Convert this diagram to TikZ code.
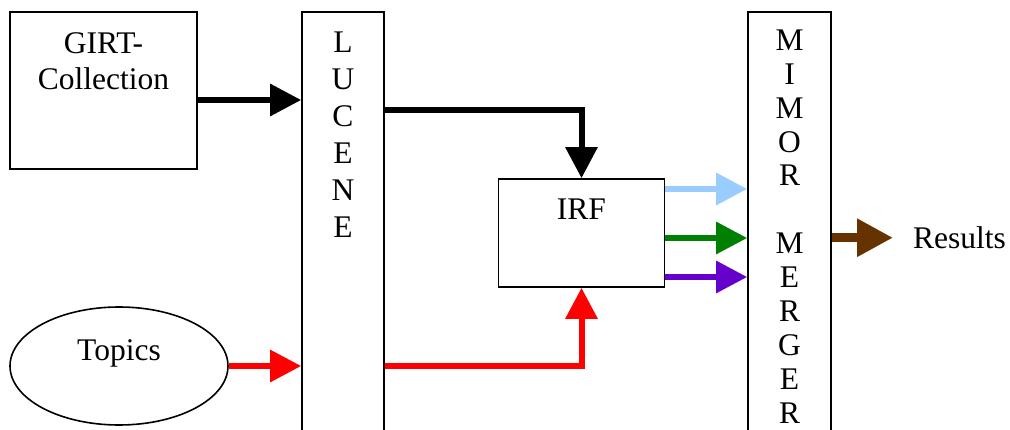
\documentclass[tikz,border=0pt]{standalone}
\usepackage{fontspec}
\setmainfont{Liberation Serif}
\usetikzlibrary{arrows.meta,shapes.geometric}
\definecolor{lblue}{HTML}{99CCFF}
\definecolor{dgreen}{HTML}{008000}
\definecolor{purp}{HTML}{6600CC}
\definecolor{brn}{HTML}{663300}
\definecolor{rd}{HTML}{FF0000}
\begin{document}
\begin{tikzpicture}[x=1pt,y=-1pt,
  box/.style={draw,line width=1.6pt,inner sep=0},
  txt/.style={inner sep=0,font=\fontsize{31.5}{36}\selectfont},
  arr/.style={line width=6pt,line join=miter,-{Triangle[length=31pt,width=31pt]}},
  bigarr/.style={line width=9.5pt,-{Triangle[length=36pt,width=36pt]}}]
\useasboundingbox (0,0) rectangle (1010,430);
\clip (0,0) rectangle (1010,430);
% boxes
\node[box,minimum width=187pt,minimum height=157pt] (girt) at (103.5,90.5) {};
\node[box,minimum width=82pt,minimum height=440pt] (lucene) at (343,232) {};
\node[box,minimum width=166pt,minimum height=108pt] (irf) at (581.5,233) {};
\node[box,minimum width=83pt,minimum height=440pt] (mimor) at (789.5,232) {};
\node[box,ellipse,minimum width=218pt,minimum height=118pt] (topics) at (119,366) {};
% texts
\node[txt,anchor=base] (t1) at (103.5,53.5) {GIRT-};
\node[txt,anchor=base] (t2) at (103.5,89.5) {Collection};
\node[txt,anchor=base] (tirf) at (581.5,220) {IRF};
\node[txt,anchor=base] (ttop) at (119,361) {Topics};
\node[txt,anchor=base west] (results) at (913,248.5) {Results};
\foreach \c [count=\i from 0] in {L,U,C,E,N,E}
  \node[txt,anchor=base] (lu\i) at (343,{52.4+37*\i}) {\c};
\foreach \c/\i in {M/0,I/1,M/2,O/3,R/4,M/6,E/7,R/8,G/9,E/10,R/11}
  \node[txt,anchor=base] (mi\i) at (789.5,{50.4+33.9*\i}) {\c};
% connectors
\draw[arr] (girt.east |- 0,100) -- (lucene.west |- 0,100);
\draw[arr] (lucene.east |- 0,110) -| (irf.north);
\draw[arr,rd] (topics.east) -- (lucene.west |- topics.east);
\draw[arr,rd] (lucene.east |- topics.east) -| (irf.south);
\draw[arr,lblue] (irf.east |- 0,189) -- (mimor.west |- 0,189);
\draw[arr,dgreen] (irf.east |- 0,238) -- (mimor.west |- 0,238);
\draw[arr,purp] (irf.east |- 0,277) -- (mimor.west |- 0,277);
\draw[bigarr,brn] (mimor.east |- results.west) -- ([xshift=-20pt]results.west);
\end{tikzpicture}
\end{document}
